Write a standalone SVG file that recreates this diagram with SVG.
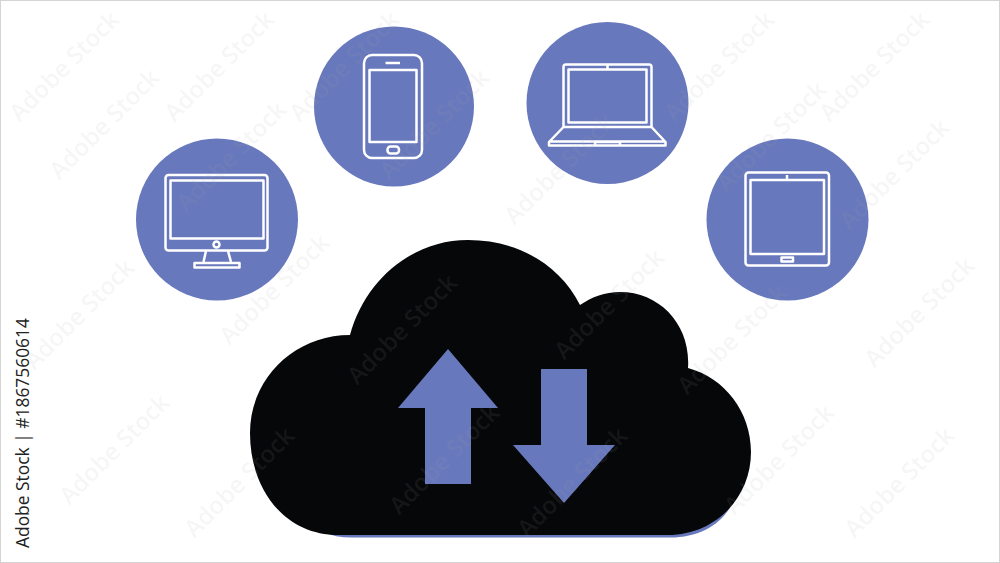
<svg xmlns="http://www.w3.org/2000/svg" width="1000" height="563" viewBox="0 0 1000 563">
<style>
.disc{fill:#6878bc}
.ic{fill:none;stroke:#fff;stroke-width:2.5;stroke-linejoin:round}
.wm text{font-family:"Open Sans","Liberation Sans",sans-serif;font-size:24px;font-weight:600;fill:#a8a8a8;fill-opacity:.1;text-anchor:middle}
</style>
<rect x="0.5" y="0.5" width="999" height="562" fill="#fff" stroke="#d4d4d4"/>
<g id="node-desktop">
<circle class="disc" cx="217" cy="219.500" r="81"/>
<rect class="ic" x="165.500" y="175" width="102" height="75.500" rx="3"/>
<rect class="ic" x="170.500" y="180.500" width="93" height="58"/>
<circle class="ic" cx="216.500" cy="244.500" r="3"/>
<path class="ic" d="M206,251L203.500,262M228,251L231,262"/>
<rect class="ic" x="194.500" y="263" width="45" height="4.500"/>
</g>
<g id="node-phone">
<circle class="disc" cx="394" cy="106.500" r="80"/>
<rect class="ic" x="364" y="55" width="58" height="103" rx="8"/>
<rect class="ic" x="369.500" y="70" width="47" height="72"/>
<path class="ic" d="M385.500,63h14.500"/>
<rect class="ic" x="387.500" y="146.500" width="11.500" height="7" rx="3"/>
</g>
<g id="node-laptop">
<circle class="disc" cx="607.500" cy="103" r="81"/>
<path class="ic" d="M563.500,127V67q0-2.500 2.500-2.500h83q2.500,0 2.500,2.500V127"/>
<rect class="ic" x="568.500" y="69.500" width="78" height="53"/>
<path class="ic" d="M607.500,64.500v5M563.500,127h88l14,15v3.500h-116.500v-3.500zM549.500,141.500h116M595,145.500v-3.500h25v3.500"/>
</g>
<g id="node-tablet">
<circle class="disc" cx="787.500" cy="219.500" r="81"/>
<rect class="ic" x="745.500" y="172.500" width="83.500" height="93" rx="3"/>
<rect class="ic" x="750.500" y="180" width="73.500" height="74"/>
<path class="ic" d="M787,175v4"/>
<rect class="ic" x="781.500" y="257.500" width="11.500" height="4"/>
</g>
<g id="node-cloud">
<path fill="#6878bc" d="M323,532Q335,537.500 352,537.500H670C697,537.500 718,527 730.500,507Z"/>
<path fill="#060709" d="M338,535C285,535 250,490 250,433C250,378 295,335 350,335C365,280 412,240 468,240C518,240 560,265 580,305C592,297 605,292 620,292C660,292 691,325 688,368C725,378 751,412 751,452C751,498 715,535 668,535Z"/>
<path id="arrow-up" fill="#6878bc" d="M448,349L498,408H471V484H425V408H398Z"/>
<path id="arrow-down" fill="#6878bc" d="M541,369H587V445H615L564,503L513,445H541Z"/>
</g>
<g id="connectors"></g>
<g class="wm">
<text transform="translate(70,72) rotate(-45)">Adobe Stock</text>
<text transform="translate(110,130) rotate(-45)">Adobe Stock</text>
<text transform="translate(225,72) rotate(-45)">Adobe Stock</text>
<text transform="translate(237,162) rotate(-45)">Adobe Stock</text>
<text transform="translate(350,72) rotate(-45)">Adobe Stock</text>
<text transform="translate(440,130) rotate(-45)">Adobe Stock</text>
<text transform="translate(565,175) rotate(-45)">Adobe Stock</text>
<text transform="translate(615,310) rotate(-45)">Adobe Stock</text>
<text transform="translate(408,335) rotate(-45)">Adobe Stock</text>
<text transform="translate(280,295) rotate(-45)">Adobe Stock</text>
<text transform="translate(85,320) rotate(-45)">Adobe Stock</text>
<text transform="translate(120,455) rotate(-45)">Adobe Stock</text>
<text transform="translate(245,488) rotate(-45)">Adobe Stock</text>
<text transform="translate(450,465) rotate(-45)">Adobe Stock</text>
<text transform="translate(578,488) rotate(-45)">Adobe Stock</text>
<text transform="translate(738,345) rotate(-45)">Adobe Stock</text>
<text transform="translate(785,465) rotate(-45)">Adobe Stock</text>
<text transform="translate(905,488) rotate(-45)">Adobe Stock</text>
<text transform="translate(925,318) rotate(-45)">Adobe Stock</text>
<text transform="translate(900,180) rotate(-45)">Adobe Stock</text>
<text transform="translate(777,142) rotate(-45)">Adobe Stock</text>
<text transform="translate(725,72) rotate(-45)">Adobe Stock</text>
<text transform="translate(880,72) rotate(-45)">Adobe Stock</text>
</g>
<text transform="translate(29,548) rotate(-90)" font-family="'Open Sans','Liberation Sans',sans-serif" font-size="17.400" font-weight="500" fill="#222">Adobe Stock | #1867560614</text>
</svg>
